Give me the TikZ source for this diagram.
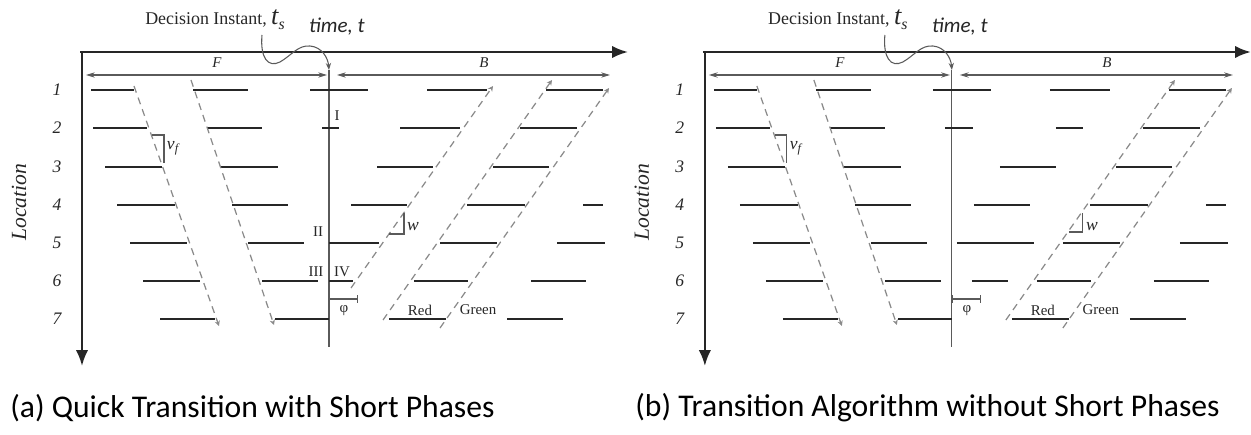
\documentclass[tikz,border=0pt]{standalone}
\usepackage{fontspec}
\setmainfont{Liberation Serif}
\newfontfamily\capfont{Carlito}
\usetikzlibrary{arrows.meta}
\definecolor{ink}{HTML}{262626}
\definecolor{wavegray}{HTML}{8A8A8A}
\definecolor{guide}{HTML}{5A5A5A}
\tikzset{
  axis/.style={line width=1.3pt,draw=ink,-{Latex[length=9pt,width=7pt]}},
  redbar/.style={line width=1.5pt,draw=ink},
  wave/.style={draw=wavegray,line width=0.7pt,dash pattern=on 4pt off 3pt},
  wavetip/.style={wave,-{Stealth[length=3pt,width=3pt]}},
  span/.style={draw=guide,line width=0.6pt,{Stealth[length=5pt,width=3pt]}-{Stealth[length=5pt,width=3pt]}},
  thinline/.style={draw=guide,line width=0.6pt},
  rowlbl/.style={font=\fontsize{10}{10}\selectfont\itshape,text=ink,inner sep=0pt},
  phaselbl/.style={font=\fontsize{8.5}{8.5}\selectfont,text=ink,inner sep=0pt},
  caplbl/.style={font=\capfont\fontsize{18}{18}\selectfont,text=black,anchor=west,inner sep=0pt}
}
% one time-space panel, drawn in pixel units
\newcommand\drawpanel{%
  \coordinate (o) at (82,52);
  \coordinate (tend) at (628,52);
  \coordinate (lend) at (82,366);
  \draw[axis] (80,52) -- (tend);
  \draw[axis] (o) -- (lend);
  \node[font=\fontsize{12.3}{12}\selectfont\itshape,text=ink,rotate=90] (loc) at (19,202) {Location};
  \foreach \r/\y in {1/90,2/128,3/167,4/205,5/243,6/281,7/319}
    \node[rowlbl] (row\r) at (57,\y) {\r};
  % decision instant
  \coordinate (dtop) at (329,70);
  \coordinate (dbot) at (329,347);
  \draw[thinline] (dtop) -- (dbot);
  \node[font=\fontsize{10.2}{10}\selectfont,text=ink] (dec) at (215,20)
    {Decision Instant, {\fontsize{15}{15}\selectfont\itshape t}\raisebox{-3pt}{\fontsize{9}{9}\selectfont\itshape s}};
  \node[font=\capfont\fontsize{12}{12}\selectfont\itshape,text=ink] (time) at (337,27) {time, t};
  \draw[thinline,-{Stealth[length=4pt,width=3pt]}] (262,35) .. controls (260,58) and (268,68) .. (280,62)
    .. controls (292,55) and (298,45) .. (310,46) .. controls (322,47) and (328,58) .. (dtop);
  % F and B spans
  \coordinate (fl) at (86,75); \coordinate (fr) at (327,75);
  \coordinate (bl) at (337,75); \coordinate (br) at (610,75);
  \draw[span] (fl) -- (fr);
  \draw[span] (bl) -- (br);
  \node[phaselbl,font=\fontsize{8.5}{8.5}\selectfont\itshape] (flbl) at (217,63) {F};
  \node[phaselbl,font=\fontsize{8.5}{8.5}\selectfont\itshape] (blbl) at (484,63) {B};
  % red intervals common to both panels
  \foreach \y/\xa/\xb in {90/91/134,90/193/248,90/310/368,90/427/487,90/546/603,
      128/93/147,128/207/262,128/520/577,
      167/105/162,167/221/278,167/377/433,167/493/549,
      205/117/175,205/232/288,205/351/407,205/467/525,205/583/603,
      243/130/187,243/248/304,243/440/497,243/557/605,
      281/143/200,281/262/318,281/414/468,281/531/586,
      319/160/215,319/275/329,319/389/446,319/507/563}
    \draw[redbar] (\xa,\y) -- (\xb,\y);
  % shock waves
  \draw[wavetip] (134,86) -- (219,326);
  \draw[wavetip] (191,80) -- (274,325);
  \draw[wavetip] (383,320) -- (552,80);
  \draw[wavetip] (440,328) -- (609,88);
  % v_f marker
  \draw[thinline] (152,135) -- (164,135) -- (164,163);
  \node[phaselbl,font=\fontsize{10}{10}\selectfont\itshape] (vf) at (173,148) {v\textsubscript{f}};
  % offset phi
  \draw[thinline,{Bar[width=4pt]}-{Bar[width=4pt]}] (329,299) -- (358,299);
  \node[phaselbl] (phi) at (344,311) {φ};
  \node[phaselbl] (red) at (420,310) {Red};
  \node[phaselbl] (green) at (478,310) {Green};
}

\begin{document}
\begin{tikzpicture}[x=0.02cm,y=-0.02cm]
  \useasboundingbox (0,0) rectangle (1251,435);
  % (a) quick transition
  \begin{scope}[name prefix=a-]
    \drawpanel
    \foreach \y/\xa/\xb in {128/322/339,128/400/460,243/329/379,281/329/353}
      \draw[redbar] (\xa,\y) -- (\xb,\y);
    \draw[wavetip] (351,288) -- (493,86);
    \draw[thinline] (389,234) -- (404,234) -- (404,213);
    \node[phaselbl,font=\fontsize{10}{10}\selectfont\itshape] (w) at (413,227) {w};
    \node[phaselbl] (p1) at (337,116) {I};
    \node[phaselbl] (p2) at (318,232) {II};
    \node[phaselbl] (p3) at (316,272) {III};
    \node[phaselbl] (p4) at (342,272) {IV};
    \node[caplbl] (cap) at (10,408) {(a) Quick Transition with Short Phases};
  \end{scope}
  % (b) transition algorithm
  \begin{scope}[xshift=12.46cm,name prefix=b-]
    \drawpanel
    \foreach \y/\xa/\xb in {128/322/350,128/433/460,243/334/411,281/349/385}
      \draw[redbar] (\xa,\y) -- (\xb,\y);
    \draw[thinline] (446,232) -- (460,232) -- (460,213);
    \node[phaselbl,font=\fontsize{10}{10}\selectfont\itshape] (w) at (469,227) {w};
  \end{scope}
  \node[caplbl] (capb) at (635,408) {(b) Transition Algorithm without Short Phases};
\end{tikzpicture}
\end{document}
